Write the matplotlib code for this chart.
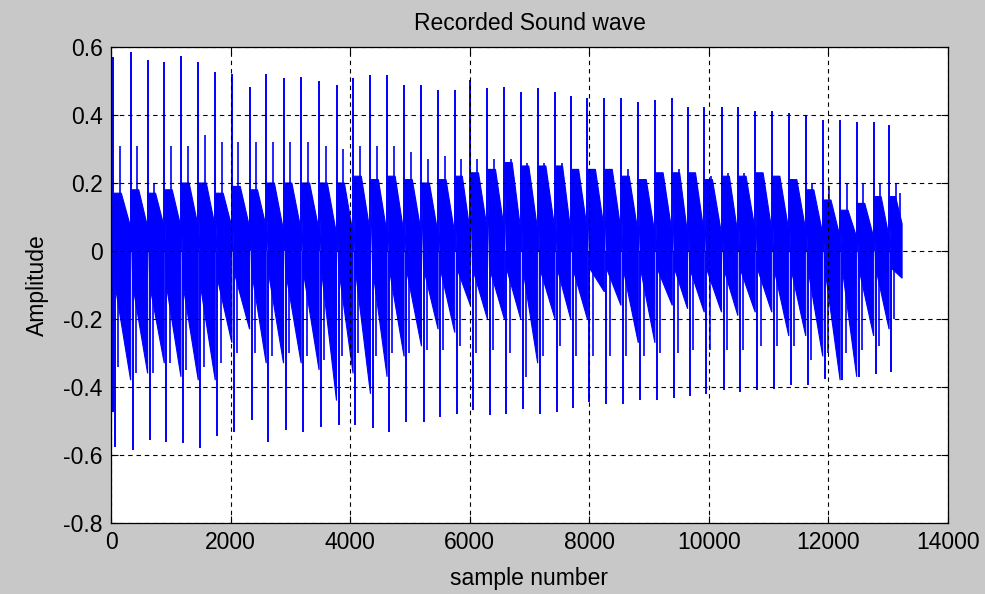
import matplotlib
matplotlib.use("Agg")
import matplotlib.pyplot as plt

# ---- data ----
pulse_pos = [33, 329, 613, 891, 1170, 1460, 1744, 2022, 2318, 2596, 2886, 3181,
             3481, 3772, 4049, 4340, 4618, 4902, 5193, 5471, 5750, 6012, 6296, 6580,
             6853, 7137, 7427, 7689, 7968, 8252, 8530, 8820, 9098, 9388, 9644, 9923,
             10212, 10485, 10775, 11053, 11337, 11621, 11905, 12196, 12473, 12757, 13015]
spike_top = [0.571, 0.584, 0.561, 0.556, 0.573, 0.556, 0.527, 0.522, 0.483, 0.522, 0.508, 0.512,
             0.500, 0.488, 0.508, 0.517, 0.517, 0.488, 0.488, 0.473, 0.473, 0.503, 0.480, 0.483,
             0.468, 0.478, 0.468, 0.457, 0.449, 0.451, 0.451, 0.439, 0.444, 0.449, 0.425, 0.423,
             0.425, 0.423, 0.412, 0.412, 0.405, 0.398, 0.384, 0.384, 0.379, 0.379, 0.371]
spike_bot = [-0.576, -0.584, -0.556, -0.561, -0.566, -0.578, -0.545, -0.532, -0.498, -0.561, -0.527, -0.532,
             -0.517, -0.512, -0.512, -0.522, -0.532, -0.503, -0.503, -0.488, -0.478, -0.469, -0.483, -0.478,
             -0.464, -0.478, -0.473, -0.462, -0.444, -0.449, -0.449, -0.437, -0.439, -0.432, -0.425, -0.420,
             -0.410, -0.415, -0.410, -0.405, -0.395, -0.395, -0.376, -0.379, -0.371, -0.361, -0.356]
second_top = [0.31, 0.31, 0.20, 0.31, 0.31, 0.34, 0.32, 0.32, 0.32, 0.32, 0.32, 0.32,
              0.31, 0.30, 0.31, 0.31, 0.31, 0.29, 0.27, 0.28, 0.27, 0.27, 0.27, 0.27,
              0.26, 0.26, 0.26, 0.24, 0.24, 0.24, 0.24, 0.21, 0.22, 0.24, 0.23, 0.22,
              0.23, 0.23, 0.23, 0.22, 0.21, 0.20, 0.19, 0.20, 0.20, 0.20, 0.20]
second_bot = [-0.34, -0.36, -0.36, -0.33, -0.35, -0.34, -0.33, -0.30, -0.30, -0.31, -0.30, -0.31,
              -0.32, -0.31, -0.30, -0.31, -0.30, -0.30, -0.29, -0.29, -0.28, -0.30, -0.29, -0.30,
              -0.37, -0.31, -0.28, -0.31, -0.31, -0.31, -0.31, -0.31, -0.30, -0.30, -0.29, -0.29,
              -0.29, -0.29, -0.28, -0.28, -0.28, -0.32, -0.30, -0.30, -0.29, -0.28, -0.20]
body_hi_start = [0.17, 0.18, 0.17, 0.18, 0.20, 0.20, 0.17, 0.19, 0.18, 0.20, 0.20, 0.20,
                 0.20, 0.20, 0.22, 0.21, 0.22, 0.21, 0.20, 0.21, 0.22, 0.23, 0.24, 0.26,
                 0.25, 0.25, 0.25, 0.24, 0.24, 0.24, 0.22, 0.21, 0.23, 0.23, 0.23, 0.21,
                 0.22, 0.22, 0.23, 0.22, 0.21, 0.18, 0.15, 0.12, 0.14, 0.16, 0.16]
body_hi_end = [0.07, 0.07, 0.07, 0.07, 0.07, 0.07, 0.07, 0.07, 0.07, 0.06, 0.06, 0.06,
               0.05, 0.05, 0.05, 0.05, 0.05, 0.05, 0.05, 0.05, 0.05, 0.06, 0.06, 0.06,
               0.06, 0.06, 0.06, 0.06, 0.06, 0.06, 0.05, 0.05, 0.05, 0.05, 0.05, 0.05,
               0.05, 0.06, 0.06, 0.06, 0.06, 0.05, 0.04, 0.04, 0.04, 0.04, 0.08]
body_lo_start = [-0.10, -0.10, -0.10, -0.10, -0.10, -0.10, -0.08, -0.06, -0.06, -0.06, -0.06, -0.06,
                 -0.05, -0.05, -0.05, -0.05, -0.05, -0.05, -0.05, -0.05, -0.05, -0.05, -0.05, -0.05,
                 -0.05, -0.05, -0.05, -0.05, -0.05, -0.05, -0.05, -0.05, -0.05, -0.05, -0.05, -0.05,
                 -0.05, -0.05, -0.05, -0.05, -0.05, -0.05, -0.05, -0.05, -0.05, -0.05, -0.05]
body_lo_end = [-0.38, -0.36, -0.33, -0.37, -0.38, -0.38, -0.27, -0.23, -0.33, -0.33, -0.33, -0.35,
               -0.44, -0.36, -0.42, -0.37, -0.31, -0.28, -0.23, -0.24, -0.16, -0.20, -0.20, -0.20,
               -0.33, -0.20, -0.20, -0.20, -0.12, -0.16, -0.27, -0.27, -0.16, -0.17, -0.18, -0.18,
               -0.19, -0.18, -0.18, -0.25, -0.25, -0.31, -0.38, -0.37, -0.25, -0.23, -0.08]
lead_hi, lead_lo = 0.17, -0.47
tail_spike_pos, tail_spike_val = 13200, 0.17
n_samples = 13232

x_ticks = [0, 2000, 4000, 6000, 8000, 10000, 12000, 14000]
y_ticks = [-0.8, -0.6, -0.4, -0.2, 0, 0.2, 0.4, 0.6]
x_tick_labels = ["0", "2000", "4000", "6000", "8000", "10000", "12000", "14000"]
y_tick_labels = ["-0.8", "-0.6", "-0.4", "-0.2", "0", "0.2", "0.4", "0.6"]
title = "Recorded Sound wave"
x_label = "sample number"
y_label = "Amplitude"

# ---- styling ----
plt.rcParams['font.family'] = ['Liberation Sans', 'DejaVu Sans']
BLUE = (0, 0, 1)
BG = '#c8c8c8'
FS = 16.5
BOT_OFF = 35
SEC_OFF = 110
SEC_BOT_OFF = 90
PLATEAU = 0.4

fig = plt.figure(figsize=(9.85, 5.94), dpi=100, facecolor=BG)
ax = fig.add_axes([111 / 985, 1 - 523 / 594, (948 - 111) / 985, (523 - 47) / 594])
ax.set_facecolor('white')

# body band of each pulse
ax.fill([0, pulse_pos[0], pulse_pos[0], 0], [lead_hi, lead_hi, lead_lo, lead_lo],
        color=BLUE, lw=0.8, zorder=1.5)
n = len(pulse_pos)
for i in range(n):
    start = pulse_pos[i] + BOT_OFF
    end = pulse_pos[i + 1] if i + 1 < n else n_samples
    mid = start + PLATEAU * (end - start)
    xs = [pulse_pos[i], mid, end, end, start]
    ys = [body_hi_start[i], body_hi_start[i], body_hi_end[i], body_lo_end[i], body_lo_start[i]]
    ax.fill(xs, ys, color=BLUE, lw=0.8, zorder=1.5)

# spikes
ax.vlines(pulse_pos, 0, spike_top, colors=[BLUE], lw=1.4, zorder=2)
ax.vlines([p + BOT_OFF for p in pulse_pos], spike_bot, 0, colors=[BLUE], lw=1.4, zorder=2)
ax.vlines([p + SEC_OFF for p in pulse_pos], 0, second_top, colors=[BLUE], lw=1.2, zorder=2)
ax.vlines([p + SEC_BOT_OFF for p in pulse_pos], second_bot, 0, colors=[BLUE], lw=1.2, zorder=2)
ax.vlines([tail_spike_pos], 0, [tail_spike_val], colors=[BLUE], lw=1.2, zorder=2)

ax.set_xlim(x_ticks[0], x_ticks[-1])
ax.set_ylim(y_ticks[0], y_ticks[-1])
ax.set_xticks(x_ticks)
ax.set_xticklabels(x_tick_labels)
ax.set_yticks(y_ticks)
ax.set_yticklabels(y_tick_labels)
ax.tick_params(axis='both', direction='in', length=5, width=0.8, labelsize=FS, top=True,
               right=True, colors='black')
ax.tick_params(axis='x', pad=6)
ax.tick_params(axis='y', pad=6)
ax.set_axisbelow(False)
ax.grid(True, color='black', linestyle=(0, (4, 3.5)), linewidth=0.8)
for s in ax.spines.values():
    s.set_linewidth(0.9)
    s.set_zorder(5)

ax.set_title(title, fontsize=FS, pad=12)
ax.set_xlabel(x_label, fontsize=FS, labelpad=9)
ax.set_ylabel(y_label, fontsize=FS, labelpad=10)

fig.savefig("out.png", dpi=100, facecolor=BG)
